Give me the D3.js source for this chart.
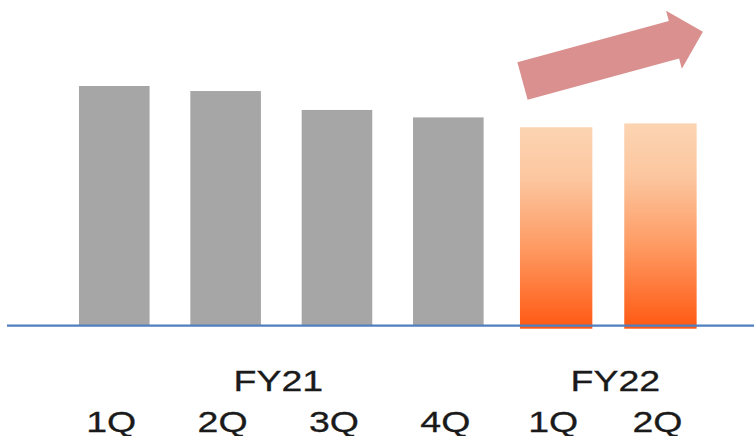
<!DOCTYPE html>
<html>
<head>
<meta charset="utf-8">
<script src="https://cdn.jsdelivr.net/npm/d3@7"></script>
<style>
  html, body { margin: 0; padding: 0; background: #fff; }
  svg { display: block; }
</style>
</head>
<body>
<svg width="754" height="436"></svg>
<script>
// data, index with FY21 1Q = 100
const fy21Quarters = ["1Q", "2Q", "3Q", "4Q"];
const fy21Values = [100, 97.9, 90.0, 86.9];
const fy22Quarters = ["1Q", "2Q"];
const fy22Values = [82.8, 84.4];
const yearLabels = ["FY21", "FY22"];

const svg = d3.select("svg");
const baseY = 325.7;

const y = d3.scaleLinear().domain([0, 100]).range([baseY, 86]);

// one band scale per fiscal year
const x21 = d3.scaleBand().domain(fy21Quarters).range([58.6, 504])
  .paddingInner(0.366).paddingOuter(0.183);
const x22 = d3.scaleBand().domain(fy22Quarters).range([504, 712.6])
  .paddingInner(0.306).paddingOuter(0.153);

const defs = svg.append("defs");
const grad = defs.append("linearGradient")
  .attr("id", "orangeGrad")
  .attr("x1", 0).attr("y1", 0).attr("x2", 0).attr("y2", 1);
grad.append("stop").attr("offset", "0%").attr("stop-color", "#fcd4b2");
grad.append("stop").attr("offset", "25%").attr("stop-color", "#fcc7a0");
grad.append("stop").attr("offset", "60%").attr("stop-color", "#fe9a62");
grad.append("stop").attr("offset", "100%").attr("stop-color", "#ff5812");

// gray bars (FY21)
svg.append("g").selectAll("rect")
  .data(fy21Values)
  .join("rect")
  .attr("x", (d, i) => x21(fy21Quarters[i]))
  .attr("y", d => y(d))
  .attr("width", x21.bandwidth())
  .attr("height", d => y(0) - y(d))
  .attr("fill", "#a6a6a6");

// orange gradient bars (FY22), run a bit past the axis line
svg.append("g").selectAll("rect")
  .data(fy22Values)
  .join("rect")
  .attr("x", (d, i) => x22(fy22Quarters[i]))
  .attr("y", d => y(d))
  .attr("width", x22.bandwidth())
  .attr("height", d => y(0) - y(d) + 3)
  .attr("fill", "url(#orangeGrad)");

// base line
svg.append("line")
  .attr("x1", 7).attr("x2", 754)
  .attr("y1", baseY).attr("y2", baseY)
  .attr("stroke", "#4f7fbf")
  .attr("stroke-width", 2.3);

// up arrow (decoration)
const ax = 522.5, ay = 81, angle = -15.25;
const len = 187, shaftW = 39, headW = 60, headL = 30;
const arrowPts = [
  [0, -shaftW / 2], [len - headL, -shaftW / 2], [len - headL, -headW / 2],
  [len, 0],
  [len - headL, headW / 2], [len - headL, shaftW / 2], [0, shaftW / 2]
];
svg.append("path")
  .attr("d", d3.line()(arrowPts) + "Z")
  .attr("transform", `translate(${ax},${ay}) rotate(${angle})`)
  .attr("fill", "#d9908f");

// labels
const font = "'Liberation Sans', Arial, sans-serif";
const labels = svg.append("g")
  .attr("font-family", font)
  .attr("font-size", 30)
  .attr("fill", "#1a1a1a")
  .attr("stroke", "#1a1a1a")
  .attr("stroke-width", 0.3)
  .attr("text-anchor", "middle");

const quarterPos = fy21Quarters.map(q => x21(q) + x21.bandwidth() / 2)
  .concat(fy22Quarters.map(q => x22(q) + x22.bandwidth() / 2));
const quarterText = fy21Quarters.concat(fy22Quarters);

labels.selectAll(".q")
  .data(quarterText)
  .join("text")
  .attr("class", "q")
  .attr("transform", (d, i) => `translate(${quarterPos[i] - 3},432) scale(1.25,1)`)
  .text(d => d);

const yearCenters = [
  (x21.range()[0] + x21.range()[1]) / 2 - 3,
  (x22.range()[0] + x22.range()[1]) / 2 + 7
];
labels.selectAll(".yr")
  .data(yearLabels)
  .join("text")
  .attr("class", "yr")
  .attr("transform", (d, i) => `translate(${yearCenters[i]},391) scale(1.25,1)`)
  .text(d => d);
</script>
</body>
</html>
